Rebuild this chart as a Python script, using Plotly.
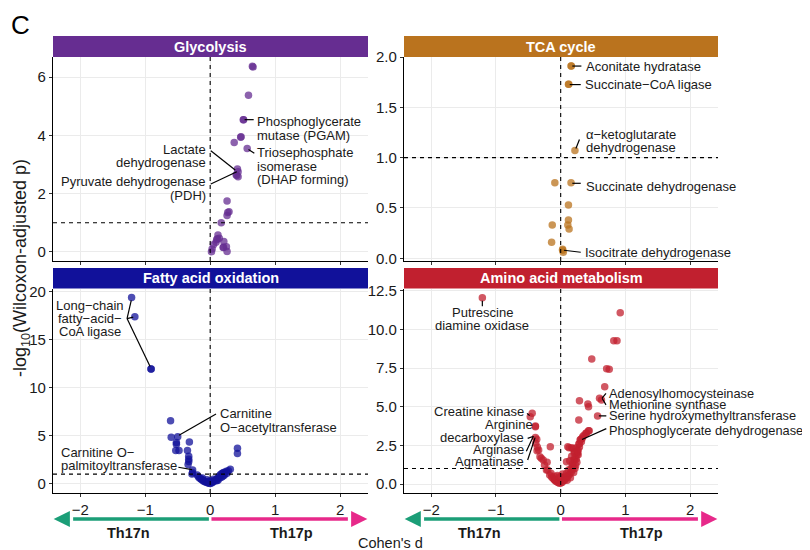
import plotly.graph_objects as go

W, H = 810, 550
OX, OY = 8, 8   # page body offset compensation
FONT = "Liberation Sans, Arial, Helvetica, sans-serif"

# ---------------- data (Cohen's d, -log10 adjusted p) ----------------
gly_d = [0.65, 0.66, 0.59, 0.51, 0.515, 0.47, 0.475, 0.37, 0.57, 0.42, 0.43, 0.41, 0.40, 0.43,
         0.26, 0.29, 0.26, 0.27, 0.17, 0.12, 0.14, 0.10, 0.09, 0.11, 0.21, 0.20, 0.205, 0.25,
         0.26, 0.02, 0.03, 0.05]
gly_v = [6.37, 6.35, 5.38, 4.54, 4.54, 3.94, 3.95, 3.76, 3.55, 2.85, 2.75, 2.62, 2.65, 2.58,
         1.75, 1.38, 1.25, 1.35, 1.00, 0.58, 0.47, 0.42, 0.33, 0.45, 0.36, 0.15, 0.16, 0.18,
         0.02, 0.01, 0.10, 0.25]

tca_d = [0.16, 0.165, 0.12, 0.125, 0.22, -0.09, 0.16, 0.12, 0.12, 0.11, 0.13, -0.13, -0.14, 0.03, 0.04, 0.03]
tca_v = [1.91, 1.91, 1.73, 1.73, 1.07, 0.75, 0.75, 0.53, 0.38, 0.33, 0.29, 0.33, 0.16, 0.09, 0.06, 0.08]

fa_d = [-1.21, -1.16, -0.91, -0.91, -0.61, -0.60, -0.50, -0.52, -0.52, -0.53, -0.48, -0.32, -0.35,
        -0.33, -0.33, -0.33, -0.34, -0.27, -0.27, -0.28, 0.42, 0.42,
        -0.20, -0.18, -0.16, -0.14, -0.13, -0.11, -0.10, -0.08, -0.06, -0.04, -0.02, 0.00, 0.02,
        0.04, 0.06, 0.08, 0.10, 0.12, 0.14, 0.16, 0.18, 0.20, 0.22, 0.25, 0.28, 0.31, 0.20, 0.15,
        0.10, -0.05, 0.00, 0.05, -0.12, 0.22, 0.26, 0.12, 0.18, -0.02, 0.03]
fa_v = [19.4, 17.4, 11.95, 11.95, 6.56, 4.83, 4.9, 4.3, 4.1, 3.45, 3.45, 4.35, 3.45,
        2.85, 2.55, 2.3, 2.0, 1.43, 1.15, 1.0, 3.7, 3.15,
        0.9, 0.7, 0.56, 0.5, 0.4, 0.35, 0.25, 0.2, 0.15, 0.1, 0.05, 0.03, 0.08,
        0.15, 0.25, 0.35, 0.5, 0.6, 0.8, 0.95, 1.05, 1.15, 1.2, 1.3, 1.35, 1.5, 0.8, 0.6,
        0.3, 0.4, 0.3, 0.45, 0.6, 0.9, 1.1, 0.35, 0.7, 0.2, 0.25]

aa_d = [-1.21, 0.92, 0.82, 0.87, 0.48, 0.71, 0.75, 0.68, 0.60, 0.63, 0.29, 0.42, 0.43, 0.57, 0.28,
        -0.44, -0.47, -0.39, -0.39, -0.39, -0.385, -0.365, -0.37, -0.36, -0.34, -0.32, -0.30,
        -0.27, -0.25, -0.22, -0.21, -0.16,
        -0.17, -0.14, -0.12, -0.10, -0.09, -0.08, -0.06, -0.04, -0.02, 0.00, 0.02, 0.04, 0.06,
        0.08, 0.10, 0.12, 0.14, 0.165, 0.18, 0.19, -0.05, 0.03, 0.00, 0.05, -0.10, 0.10, 0.15,
        -0.15, -0.20, 0.07, 0.12, 0.20, -0.02, 0.09,
        0.09, 0.11, 0.13, 0.17, 0.19, 0.24, 0.215, 0.215, 0.25, 0.19, 0.16, 0.20, 0.22, 0.24,
        0.26, 0.27, 0.28, 0.29, 0.30, 0.31, 0.32, 0.33, 0.34, 0.36, 0.39, 0.40, 0.43, 0.44,
        0.22, 0.18, 0.25, 0.23, 0.27, 0.14, 0.21, 0.26, 0.29, 0.17]
aa_v = [12.04, 11.07, 9.26, 9.26, 8.08, 7.45, 7.42, 6.29, 5.54, 5.43, 5.39, 5.17, 5.0, 4.40, 4.14,
        4.57, 4.35, 3.75, 3.70, 3.0, 2.63, 2.15, 2.9, 2.4, 2.2, 1.76, 1.66,
        1.55, 1.23, 0.90, 1.40, 2.41,
        0.58, 0.45, 0.37, 0.30, 0.26, 0.20, 0.15, 0.10, 0.05, 0.06, 0.10, 0.20, 0.25,
        0.35, 0.45, 0.55, 0.65, 0.80, 0.95, 1.15, 0.55, 0.65, 0.45, 0.40, 0.50, 0.25, 0.40,
        0.70, 0.90, 0.50, 0.90, 0.75, 0.47, 0.69,
        1.44, 2.41, 2.35, 2.35, 2.30, 2.35, 2.09, 1.55, 1.87, 1.34, 1.01, 1.55, 1.70, 1.60,
        2.00, 2.20, 2.59, 2.40, 2.84, 2.90, 2.73, 2.95, 3.06, 3.15, 3.28, 3.30, 3.45, 3.45,
        1.00, 1.20, 1.40, 1.20, 1.90, 1.50, 2.00, 2.10, 2.60, 1.80]

panel_titles = ["Glycolysis", "TCA cycle", "Fatty acid oxidation", "Amino acid metabolism"]
panel_colors = ["#662D91", "#BA731E", "#11119A", "#C1202F"]
panel_x = [gly_d, tca_d, fa_d, aa_d]
panel_y = [gly_v, tca_v, fa_v, aa_v]

y_ticks = [[0, 2, 4, 6], [0, 0.5, 1.0, 1.5, 2.0], [0, 5, 10, 15, 20], [0, 2.5, 5, 7.5, 10, 12.5]]
y_tickfmt = ["d", ".1f", "d", ".1f"]
y_ranges = [[-0.31, 6.69], [-0.027, 2.0], [-0.97, 20.33], [-0.58, 12.64]]
x_ticks = [-2, -1, 0, 1, 2]
x_range = [-2.42, 2.43]
sig_line = 1.0

# gene labels: (panel, lines, x, y of first line, anchor, font size)
labels = [
    (0, ["Phosphoglycerate", "mutase (PGAM)"], 0.69, 4.47, "left", 13),
    (0, ["Triosephosphate", "isomerase", "(DHAP forming)"], 0.69, 3.40, "left", 13),
    (0, ["Lactate", "dehydrogenase"], -0.03, 3.53, "right", 13),
    (0, ["Pyruvate dehydrogenase", "(PDH)"], -0.03, 2.41, "right", 13),
    (1, ["Aconitate hydratase"], 0.354, 1.91, "left", 13),
    (1, ["Succinate\u2212CoA ligase"], 0.343, 1.726, "left", 13),
    (1, ["\u03b1\u2212ketoglutarate", "dehydrogenase"], 0.354, 1.23, "left", 13),
    (1, ["Succinate dehydrogenase"], 0.354, 0.717, "left", 13),
    (1, ["Isocitrate dehydrogenase"], 0.343, 0.056, "left", 13),
    (2, ["Long\u2212chain", "fatty\u2212acid\u2212", "CoA ligase"], -1.846, 18.61, "center", 13),
    (2, ["Carnitine", "O\u2212acetyltransferase"], 0.128, 7.26, "left", 13),
    (2, ["Carnitine O\u2212", "palmitoyltransferase"], -2.33, 3.23, "left", 13),
    (3, ["Putrescine", "diamine oxidase"], -1.21, 11.08, "center", 13),
    (3, ["Adenosylhomocysteinase"], 0.72, 5.87, "left", 12.8),
    (3, ["Methionine synthase"], 0.72, 5.11, "left", 12.8),
    (3, ["Serine hydroxymethyltransferase"], 0.72, 4.40, "left", 12.8),
    (3, ["Phosphoglycerate dehydrogenase"], 0.72, 3.45, "left", 12.8),
    (3, ["Creatine kinase"], -0.528, 4.66, "right", 13),
    (3, ["Arginine"], -0.389, 3.88, "right", 13),
    (3, ["decarboxylase"], -0.528, 3.02, "right", 13),
    (3, ["Arginase"], -0.528, 2.24, "right", 13),
    (3, ["Agmatinase"], -0.528, 1.47, "right", 13),
]

# leader segments: (panel, x0, y0, x1, y1)
leaders = [
    (0, 0.53, 4.54, 0.67, 4.54), (0, 0.59, 3.52, 0.68, 3.39),
    (0, 0.01, 3.47, 0.385, 2.81), (0, 0.01, 2.33, 0.41, 2.75),
    (1, 0.18, 1.91, 0.32, 1.91), (1, 0.14, 1.726, 0.31, 1.726),
    (1, 0.235, 1.09, 0.29, 1.18), (1, 0.18, 0.745, 0.31, 0.745),
    (1, 0.05, 0.08, 0.31, 0.06),
    (2, -1.28, 17.2, -1.215, 19.1), (2, -1.28, 17.2, -1.185, 17.35), (2, -1.28, 17.2, -0.925, 12.2),
    (2, 0.09, 7.26, -0.48, 5.05), (2, -0.49, 1.71, -0.28, 1.47),
    (3, -1.21, 11.85, -1.21, 11.5),
    (3, 0.70, 5.86, 0.64, 5.55), (3, 0.64, 5.55, 0.70, 5.12),
    (3, 0.59, 4.40, 0.705, 4.40), (3, 0.705, 3.58, 0.33, 2.88),
    (3, -0.52, 4.57, -0.48, 4.42),
    (3, -0.51, 2.95, -0.43, 3.07), (3, -0.53, 2.12, -0.42, 3.10), (3, -0.51, 1.55, -0.395, 3.0),
]

side_labels = ["Th17n", "Th17p"]
side_colors = ["#1B9E77", "#E7298A"]


def px_x(px):
    return (px - OX) / W


def px_y(py):
    return 1 - (py - OY) / H


# ---------------- layout geometry (target pixel positions) ----------------
xdoms = [[px_x(53), px_x(368)], [px_x(404), px_x(718)]]
ydoms = [[px_y(261), px_y(57)], [px_y(493), px_y(288.5)]]
strip_px = [(36, 57), (268, 288.5)]

fig = go.Figure()
layout = dict(
    width=W, height=H, margin=dict(l=0, r=0, t=0, b=0, pad=0, autoexpand=False),
    paper_bgcolor="white", plot_bgcolor="white", showlegend=False,
    font=dict(family=FONT, color="#1a1a1a"),
)
shapes, annotations = [], []

for i in range(4):
    row, col = divmod(i, 2)
    xa = "x" if i == 0 else f"x{i + 1}"
    ya = "y" if i == 0 else f"y{i + 1}"
    xkey = "xaxis" if i == 0 else f"xaxis{i + 1}"
    ykey = "yaxis" if i == 0 else f"yaxis{i + 1}"
    layout[xkey] = dict(
        domain=xdoms[col], anchor=ya, range=x_range, tickvals=x_ticks, automargin=False,
        showticklabels=(row == 1), ticks="outside", ticklen=3, tickcolor="#333",
        showline=True, linecolor="black", linewidth=1.2, showgrid=True,
        gridcolor="#EBEBEB", gridwidth=1, zeroline=False,
        tickfont=dict(size=15, color="#1a1a1a"),
    )
    layout[ykey] = dict(
        domain=ydoms[row], anchor=xa, range=y_ranges[i], tickvals=y_ticks[i], automargin=False,
        tickformat=y_tickfmt[i], ticks="outside", ticklen=3, tickcolor="#333",
        showline=True, linecolor="black", linewidth=1.2, showgrid=True,
        gridcolor="#EBEBEB", gridwidth=1, zeroline=False,
        tickfont=dict(size=15, color="#1a1a1a"),
    )
    fig.add_trace(go.Scatter(
        x=panel_x[i], y=panel_y[i], mode="markers", xaxis=xa, yaxis=ya,
        marker=dict(size=7.5, color=panel_colors[i], opacity=0.75, line=dict(width=0)),
        hoverinfo="skip",
    ))
    shapes.append(dict(type="line", xref=xa, yref=f"{ya} domain", x0=0, x1=0, y0=0, y1=1,
                       line=dict(color="black", width=1.1, dash="4px,4px"), layer="above"))
    shapes.append(dict(type="line", xref=f"{xa} domain", yref=ya, x0=0, x1=1, y0=sig_line, y1=sig_line,
                       line=dict(color="black", width=1.1, dash="4px,4px"), layer="above"))
    s0, s1 = strip_px[row]
    shapes.append(dict(type="rect", xref="paper", yref="paper", x0=xdoms[col][0], x1=xdoms[col][1],
                       y0=px_y(s1), y1=px_y(s0), fillcolor=panel_colors[i], line=dict(width=0)))
    annotations.append(dict(text=f"<b>{panel_titles[i]}</b>", xref="paper", yref="paper",
                            x=(xdoms[col][0] + xdoms[col][1]) / 2, y=px_y((s0 + s1) / 2),
                            showarrow=False, font=dict(size=14.5, color="white"),
                            xanchor="center", yanchor="middle"))

for p, lines, x, y, anc, fs in labels:
    xa = "x" if p == 0 else f"x{p + 1}"
    ya = "y" if p == 0 else f"y{p + 1}"
    for k, t in enumerate(lines):
        annotations.append(dict(text=t, xref=xa, yref=ya, x=x, y=y, yshift=-13.3 * k,
                                showarrow=False, xanchor=anc, yanchor="middle",
                                font=dict(size=fs, color="#1a1a1a")))
for p, x0, y0, x1, y1 in leaders:
    xa = "x" if p == 0 else f"x{p + 1}"
    ya = "y" if p == 0 else f"y{p + 1}"
    shapes.append(dict(type="line", xref=xa, yref=ya, x0=x0, y0=y0, x1=x1, y1=y1,
                       line=dict(color="black", width=1.2)))

ay = px_y(519)
hh = 8 / H
for xa in ["x3", "x4"]:
    tipL, baseL = x_range[0] + 0.01, x_range[0] + 0.26
    tipR, baseR = x_range[1] - 0.01, x_range[1] - 0.26
    shapes.append(dict(type="line", xref=xa, yref="paper", x0=-0.02, x1=baseL + 0.05, y0=ay, y1=ay,
                       line=dict(color=side_colors[0], width=3.5)))
    shapes.append(dict(type="path", xref=xa, yref="paper",
                       path=f"M {tipL},{ay} L {baseL},{ay + hh} L {baseL},{ay - hh} Z",
                       fillcolor=side_colors[0], line=dict(width=0)))
    shapes.append(dict(type="line", xref=xa, yref="paper", x0=0.02, x1=baseR - 0.05, y0=ay, y1=ay,
                       line=dict(color=side_colors[1], width=3.5)))
    shapes.append(dict(type="path", xref=xa, yref="paper",
                       path=f"M {tipR},{ay} L {baseR},{ay + hh} L {baseR},{ay - hh} Z",
                       fillcolor=side_colors[1], line=dict(width=0)))
    for lab, xx in zip(side_labels, [-1.25, 1.25]):
        annotations.append(dict(text=f"<b>{lab}</b>", xref=xa, yref="paper", x=xx, y=px_y(533),
                                showarrow=False, xanchor="center", yanchor="middle",
                                font=dict(size=14.5, color="#1a1a1a")))

annotations.append(dict(text="Cohen's d", xref="paper", yref="paper", x=px_x(390), y=px_y(543),
                        showarrow=False, xanchor="center", yanchor="middle",
                        font=dict(size=14.5, color="#1a1a1a")))
annotations.append(dict(text="-log<sub>10</sub>(Wilcoxon-adjusted p)", xref="paper", yref="paper",
                        x=px_x(22), y=px_y(268), textangle=-90, showarrow=False,
                        xanchor="center", yanchor="middle", font=dict(size=18, color="#1a1a1a")))
annotations.append(dict(text="C", xref="paper", yref="paper", x=px_x(9), y=1.0,
                        showarrow=False, xanchor="left", yanchor="top",
                        font=dict(size=26, color="black")))

layout["shapes"] = shapes
layout["annotations"] = annotations
fig.update_layout(**layout)
fig.write_html("out.html")
